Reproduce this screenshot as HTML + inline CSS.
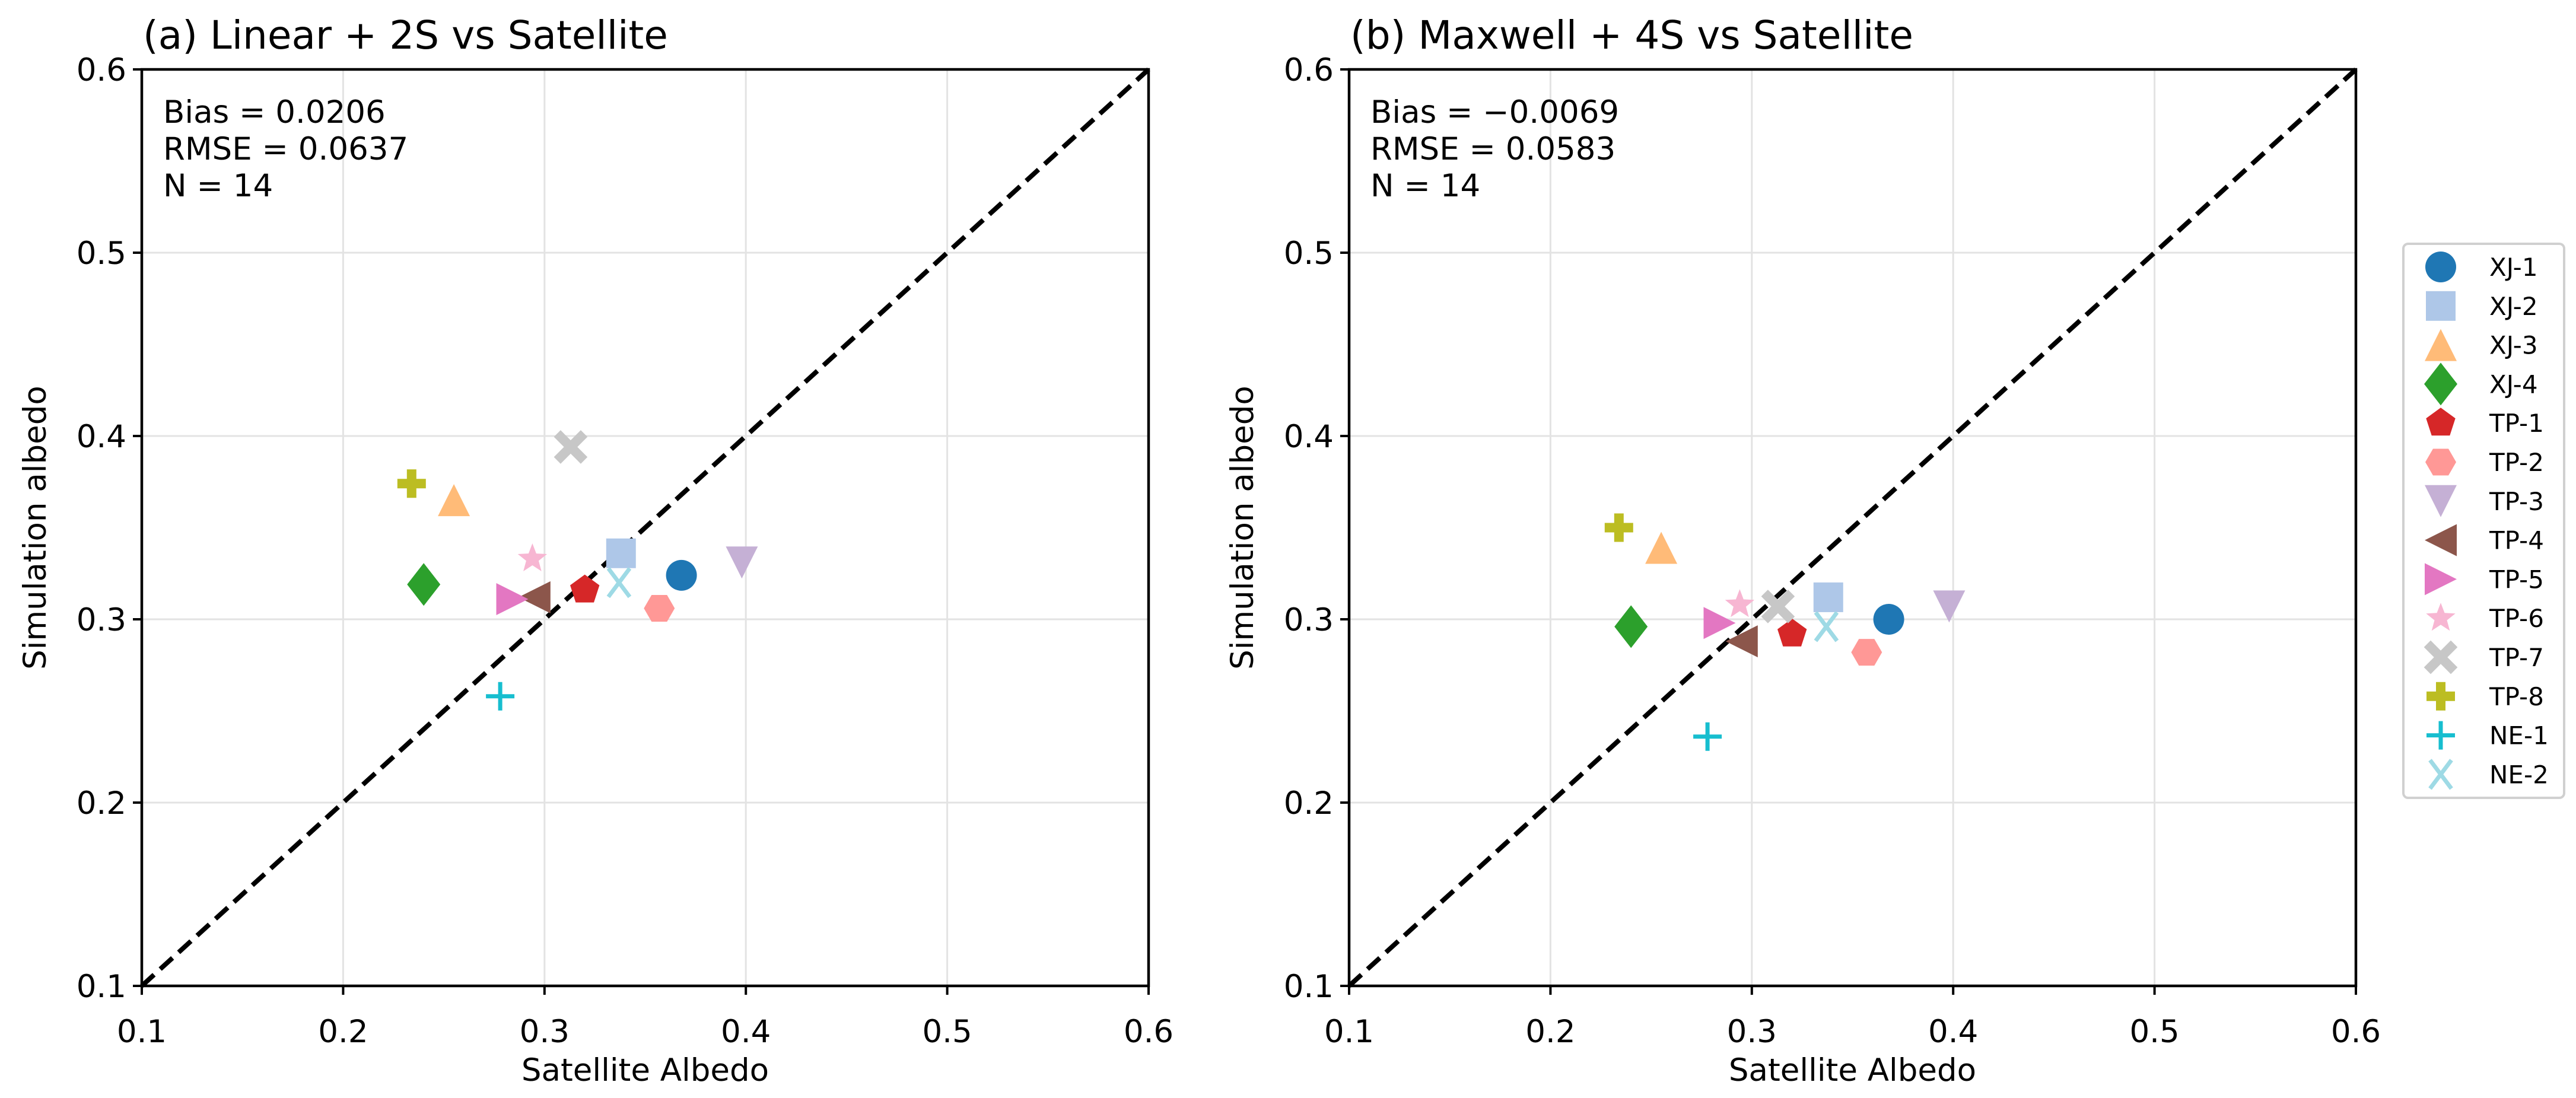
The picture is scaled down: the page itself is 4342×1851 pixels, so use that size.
<!DOCTYPE html>
<html><head><meta charset="utf-8">
<style>
html,body{margin:0;padding:0;background:#fff;}
svg{display:block;}
text{font-family:"DejaVu Sans","Liberation Sans",sans-serif;fill:#000;}
</style></head>
<body>
<svg id="fig" xmlns="http://www.w3.org/2000/svg" width="4342" height="1851" viewBox="0 0 4342 1851">
<rect width="4342" height="1851" fill="#fff"/>
</svg>
<script>
const sites = ["XJ-1","XJ-2","XJ-3","XJ-4","TP-1","TP-2","TP-3","TP-4","TP-5","TP-6","TP-7","TP-8","NE-1","NE-2"];
const satelliteAlbedo = [0.368,0.338,0.255,0.240,0.320,0.357,0.398,0.295,0.284,0.294,0.313,0.234,0.278,0.337];
const simLinear2S = [0.324,0.336,0.365,0.319,0.316,0.306,0.331,0.312,0.311,0.333,0.394,0.374,0.258,0.320];
const simMaxwell4S = [0.300,0.312,0.339,0.296,0.292,0.282,0.307,0.288,0.298,0.308,0.307,0.350,0.236,0.296];
const tickValues = [0.1,0.2,0.3,0.4,0.5,0.6];
const tickLabels = ["0.1","0.2","0.3","0.4","0.5","0.6"];
const panelTitles = ["(a) Linear + 2S vs Satellite","(b) Maxwell + 4S vs Satellite"];
const panelStats = [["Bias = 0.0206","RMSE = 0.0637","N = 14"],["Bias = \u22120.0069","RMSE = 0.0583","N = 14"]];
const colors = ["#1f77b4","#aec7e8","#ffbb78","#2ca02c","#d62728","#ff9896","#c5b0d5","#8c564b","#e377c2","#f7b6d2","#c7c7c7","#bcbd22","#17becf","#9edae5"];
const markers = ["o","s","^","D","p","H","v","<",">","*","X","P","+","x"];

const NS = "http://www.w3.org/2000/svg";
const svgRoot = document.getElementById("fig");
function mk(tag, attrs, parent){
  const e = document.createElementNS(NS, tag);
  for (const k in attrs) e.setAttribute(k, attrs[k]);
  (parent||svgRoot).appendChild(e);
  return e;
}
function poly(pts){ return pts.map(p=>p[0].toFixed(1)+","+p[1].toFixed(1)).join(" "); }
function regular(n, r, rot){
  const pts=[]; for(let i=0;i<n;i++){const a=rot+i*2*Math.PI/n; pts.push([r*Math.sin(a), -r*Math.cos(a)]);} return pts;
}
function drawMarker(g, type, cx, cy, color){
  const t = "translate("+cx.toFixed(1)+","+cy.toFixed(1)+")";
  let el;
  if (type==="o") el = mk("circle",{cx:cx,cy:cy,r:26,fill:color},g);
  else if (type==="s") el = mk("rect",{x:cx-25,y:cy-25,width:50,height:50,fill:color},g);
  else if (type==="^") el = mk("polygon",{points:poly([[0,-27],[-27,27],[27,27]]),fill:color,transform:t},g);
  else if (type==="v") el = mk("polygon",{points:poly([[0,27],[-27,-27],[27,-27]]),fill:color,transform:t},g);
  else if (type==="<") el = mk("polygon",{points:poly([[-27,0],[27,-27],[27,27]]),fill:color,transform:t},g);
  else if (type===">") el = mk("polygon",{points:poly([[27,0],[-27,-27],[-27,27]]),fill:color,transform:t},g);
  else if (type==="D") el = mk("polygon",{points:poly([[0,-36],[-28,0],[0,36],[28,0]]),fill:color,transform:t},g);
  else if (type==="p") el = mk("polygon",{points:poly(regular(5,26,0)),fill:color,transform:t},g);
  else if (type==="H") el = mk("polygon",{points:poly(regular(6,26,Math.PI/6)),fill:color,transform:t},g);
  else if (type==="*") { const pts=[]; for(let i=0;i<10;i++){const r=i%2?11:26;const a=i*Math.PI/5;pts.push([r*Math.sin(a),-r*Math.cos(a)]);} el = mk("polygon",{points:poly(pts),fill:color,transform:t},g); }
  else if (type==="P") el = mk("polygon",{points:poly([[-8,-24],[8,-24],[8,-8],[24,-8],[24,8],[8,8],[8,24],[-8,24],[-8,8],[-24,8],[-24,-8],[-8,-8]]),fill:color,transform:t},g);
  else if (type==="X") el = mk("path",{d:"M-17,-17 L17,17 M17,-17 L-17,17",stroke:color,"stroke-width":16,"stroke-linecap":"square",fill:"none",transform:t},g);
  else if (type==="+") el = mk("path",{d:"M0,-24 V24 M-24,0 H24",stroke:color,"stroke-width":7,fill:"none",transform:t},g);
  else if (type==="x") el = mk("path",{d:"M-18,-24 L18,24 M18,-24 L-18,24",stroke:color,"stroke-width":7,fill:"none",transform:t},g);
  return el;
}

const panels = [{left:239,sim:simLinear2S},{left:2274,sim:simMaxwell4S}];
const plotTop=117, plotBottom=1662, plotW=1697, plotH=plotBottom-plotTop;
const vmin=0.1, vmax=0.6;

panels.forEach((p,pi)=>{
  const xs = v => p.left + (v-vmin)/(vmax-vmin)*plotW;
  const ys = v => plotBottom - (v-vmin)/(vmax-vmin)*plotH;
  const g = mk("g",{});
  
  
  tickValues.forEach((v,i)=>{
    const gx = mk("line",{x1:xs(v),x2:xs(v),y1:plotTop,y2:plotBottom,stroke:"#e3e3e3","stroke-width":3},g);
    
    
    const gy = mk("line",{x1:p.left,x2:p.left+plotW,y1:ys(v),y2:ys(v),stroke:"#e3e3e3","stroke-width":3},g);
    
    
  });
  const d = mk("line",{x1:xs(0.1),y1:ys(0.1),x2:xs(0.6),y2:ys(0.6),stroke:"#000","stroke-width":8,"stroke-dasharray":"28,14"},g);
  
  
  sites.forEach((s,i)=>{
    const m = drawMarker(g, markers[i], xs(satelliteAlbedo[i]), ys(p.sim[i]), colors[i]);
    
    
  });
  const fr = mk("rect",{x:p.left,y:plotTop,width:plotW,height:plotH,fill:"none",stroke:"#000","stroke-width":4.5},g);
  
  
  tickValues.forEach((v,i)=>{
    mk("line",{x1:xs(v),x2:xs(v),y1:plotBottom,y2:plotBottom+15,stroke:"#000","stroke-width":4},g);
    mk("line",{x1:p.left-15,x2:p.left,y1:ys(v),y2:ys(v),stroke:"#000","stroke-width":4},g);
    const tx = mk("text",{x:xs(v),y:plotBottom+95,"font-size":53,"text-anchor":"middle"},g);
    tx.textContent = tickLabels[i];
    
    
    const ty = mk("text",{x:p.left-26,y:ys(v)+19,"font-size":53,"text-anchor":"end"},g);
    ty.textContent = tickLabels[i];
    
    
  });
  const xl = mk("text",{x:p.left+plotW/2,y:1822,"font-size":53,"text-anchor":"middle"},g);
  xl.textContent = "Satellite Albedo";
  
  
  const ylx = p.left-162;
  const ylc = (plotTop+plotBottom)/2;
  const yl = mk("text",{x:ylx,y:ylc,"font-size":53,"text-anchor":"middle",transform:"rotate(-90 "+ylx+" "+ylc+")"},g);
  yl.textContent = "Simulation albedo";
  
  
  const tt = mk("text",{x:p.left+2,y:82,"font-size":66},g);
  tt.textContent = panelTitles[pi];
  
  
  panelStats[pi].forEach((s,k)=>{
    const st = mk("text",{x:p.left+36,y:207+k*62,"font-size":53},g);
    st.textContent = s;
    
    
  });
});

const lg = mk("g",{});


mk("rect",{x:4051,y:411,width:271,height:934,rx:8,fill:"#fff",stroke:"#d0d0d0","stroke-width":4},lg);
sites.forEach((s,i)=>{
  const y = 450 + i*65.8;
  const m = drawMarker(lg, markers[i], 4114, y, colors[i]);
  
  
  const t = mk("text",{x:4196,y:y+15,"font-size":42},lg);
  t.textContent = s;
  
  
});
</script>
</body></html>
